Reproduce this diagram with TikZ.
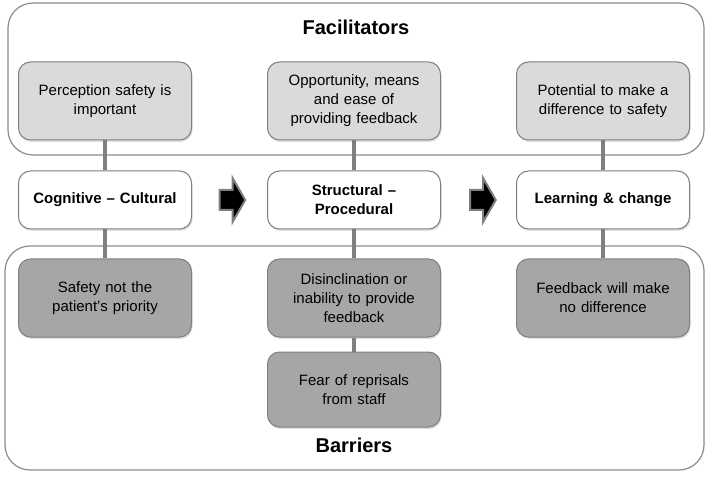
\documentclass[tikz,border=0pt]{standalone}
\usepackage{fontspec}
\setmainfont{Liberation Sans}
\usetikzlibrary{positioning,shapes.arrows,shadows}

\definecolor{linegrey}{HTML}{7F7F7F}
\definecolor{framegrey}{HTML}{8C8C8C}
\definecolor{lightfill}{HTML}{DADADA}
\definecolor{darkfill}{HTML}{A6A6A6}

\tikzset{
  box/.style={draw=linegrey, line width=1pt, rounded corners=12pt,
    minimum width=173pt, text width=160pt, align=center, inner sep=0pt,
    font=\fontsize{15}{19}\selectfont,
    drop shadow={shadow xshift=1pt, shadow yshift=-2pt, opacity=.25}},
  facbox/.style={box, fill=lightfill, minimum height=78pt},
  stagebox/.style={box, fill=white, minimum height=58pt, font=\fontsize{15}{19}\selectfont\bfseries},
  barbox/.style={box, fill=darkfill, minimum height=78pt},
  frame/.style={draw=framegrey, line width=1.2pt, rounded corners=25pt},
  link/.style={draw=linegrey, line width=4pt},
  nextarrow/.style={single arrow, draw=linegrey, line width=2pt, fill=black,
    inner sep=9pt, minimum height=25pt, single arrow head extend=12pt,
    single arrow tip angle=120},
  heading/.style={font=\fontsize{20}{24}\selectfont\bfseries}
}

\begin{document}
\begin{tikzpicture}[x=1pt, y=-1pt, node distance=30pt]
    \useasboundingbox (0,0) rectangle (709,478);

    % frames
    \draw[frame] (8,3) rectangle (704,155);
    \draw[frame] (5,246) rectangle (704,470);
    \node[heading] (fachead) at (356,27) {Facilitators};
    \node[heading] (barhead) at (354,445) {Barriers};

    % stages
    \node[stagebox] at (105,200) (cog) {Cognitive -- Cultural};
    \node[stagebox] at (354,200) (struct) {Structural --\\Procedural};
    \node[stagebox] at (603,200) (learn) {Learning \& change};
    \node[nextarrow] at (229.5,200) (arrA) {};
    \node[nextarrow] at (480,200) (arrB) {};

    % facilitators
    \node[facbox, above=of cog] (facA) {Perception safety is\\important};
    \node[facbox, above=of struct] (facB) {Opportunity, means\\and ease of\\providing feedback};
    \node[facbox, above=of learn] (facC) {Potential to make a\\difference to safety};

    % barriers
    \node[barbox, below=29pt of cog] (barA) {Safety not the\\patient's priority};
    \node[barbox, below=29pt of struct] (barB) {Disinclination or\\inability to provide\\feedback};
    \node[barbox, below=14pt of barB, minimum height=75pt] (barD) {Fear of reprisals\\from staff};
    \node[barbox, below=29pt of learn] (barC) {Feedback will make\\no difference};

    % links
    \draw[link] (facA) -- (cog) -- (barA);
    \draw[link] (facB) -- (struct) -- (barB) -- (barD);
    \draw[link] (facC) -- (learn) -- (barC);
\end{tikzpicture}
\end{document}
